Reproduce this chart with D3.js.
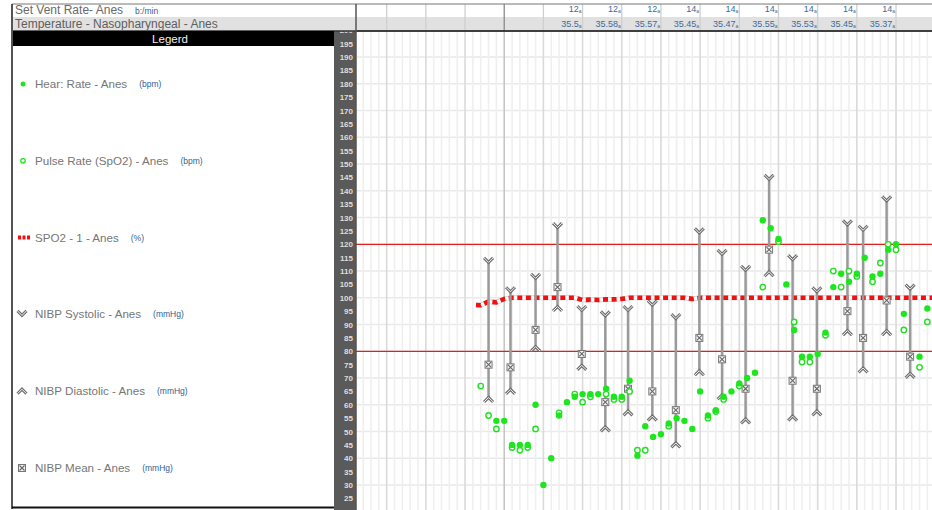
<!DOCTYPE html>
<html><head><meta charset="utf-8">
<script src="https://cdn.jsdelivr.net/npm/d3@7"></script>
<style>body{margin:0;background:#fff;} svg{display:block;font-family:"Liberation Sans",Arial,sans-serif;}</style>
</head><body>
<svg id="chart" width="932" height="510"></svg>
<script>
// ---------------- DATA ----------------
const hrTimes  = [19,20,21,22,23,24,25,26,27,28,29,30,31,32,33,34,35,36,37,38,39,40,41,42,43,44,45,46,47,48,49,50,51,52,53,54,55,56,57,58,59,60,61,62,63,64,65,66,67,68,69,70,71,73,74];
const hrValues = [54,54,45,45,45,60,30,40,56,61,63,64,64,64,66,63,63,69,41,52,48,49,53,55,54,51,65,56,58,63,65,68,70,72,129,126,122,105,88,78,78,79,87,104,109,106,109,115,108,109,118,120,94,78,96];

const prTimes  = [17,18,19,21,22,23,24,27,29,30,31,33,34,35,36,37,38,41,46,47,48,50,53,55,57,58,59,61,62,63,64,65,67,68,69,70,71,73,74];
const prValues = [67,56,51,44,43,44,51,57,64,61,63,64,62,62,65,43,43,52,55,57.5,62,67,104,121,91,76,76,86,110,104,110,108,106,113,120,118,88,74,91];

const spo2Times  = [16.4,17,18,19,20,21,22,23,24,25,26,27,28,29,30,31,32,33,34,35,36,37,38,39,40,41,42,43,44,45,46,47,48,49,50,51,52,53,54,55,56,57,58,59,60,61,62,63,64,65,66,67,68,69,70,71,72,73,74,75];
const spo2Values = [97.3,97.2,98.6,98.3,99.6,100,100,100,100,100,100,100,100,100,99.2,99.3,99.2,99.4,99.4,99.6,100,100,100,100,100,100,100,100,99.6,100,100,100,100,100,100,100,100,100,100,100,100,100,100,100,100,100,100,100,100,100,100,100,100,100,100,100,100,100,100,100];

const nibpTimes = [18,20.8,24,26.8,29.9,32.9,35.8,38.9,41.9,44.9,47.8,50.8,53.8,56.8,59.9,63.8,65.8,68.8,71.8];
const sysValues  = [114,103,108,127,96,94,96,98,93,125,117,111,145,115,103,128,126,137,104];
const meanValues = [75,74,88,104,79,61,66,65,58,85,77,66,118,69,66,95,85,99,78];
const diaValues  = [62,65,81,96,74,51,57,55,45,72,63,54,109,55,57,87,73,87,71];

const refLimits = [120, 80];

const headerTimes = [30,35,40,45,50,55,60,65,70];
const ventValues  = ["12","12","12","14","14","14","14","14","14"];
const tempValues  = ["35.5","35.58","35.57","35.45","35.47","35.55","35.53","35.45","35.37"];

const legendNames = ["Hear: Rate - Anes","Pulse Rate (SpO2) - Anes","SPO2 - 1 - Anes","NIBP Systolic - Anes","NIBP Diastolic - Anes","NIBP Mean - Anes"];
const legendUnits = ["(bpm)","(bpm)","(%)","(mmHg)","(mmHg)","(mmHg)"];
const legendKinds = ["hr","pr","spo2","sys","dia","mean"];

// ---------------- SCALES ----------------
const svg = d3.select("#chart");
const x = d3.scaleLinear().domain([0, 75]).range([347.5, 347.5 + 75 * 7.836]);
const y = d3.scaleLinear().domain([20, 200]).range([511.8, 30.3]);
const plotL = 356, plotR = 932, plotT = 31, plotB = 510;

svg.append("rect").attr("width", 932).attr("height", 510).attr("fill", "#fff");

const defs = svg.append("defs");
defs.append("clipPath").attr("id", "plotclip").append("rect")
  .attr("x", plotL).attr("y", plotT).attr("width", plotR - plotL).attr("height", plotB - plotT);

const plot = svg.append("g").attr("clip-path", "url(#plotclip)");

// grid
const minorT = d3.range(1, 76).filter(t => t % 5 !== 0);
const majorT = d3.range(0, 76, 5);
plot.selectAll(".hg").data(d3.range(30, 201, 10)).join("line")
  .attr("x1", plotL).attr("x2", plotR).attr("y1", d => y(d)).attr("y2", d => y(d))
  .attr("stroke", "#e9e9e9").attr("stroke-width", 1.5);
plot.selectAll(".vmin").data(minorT).join("line")
  .attr("x1", d => x(d)).attr("x2", d => x(d)).attr("y1", plotT).attr("y2", plotB)
  .attr("stroke", "#efefef").attr("stroke-width", 1.6);
plot.selectAll(".vmaj").data(majorT).join("line")
  .attr("x1", d => x(d)).attr("x2", d => x(d)).attr("y1", plotT).attr("y2", plotB)
  .attr("stroke", d => d === 20 ? "#c6c6c6" : "#dadada").attr("stroke-width", 1.6);

// reference limits
plot.selectAll(".ref").data(refLimits).join("line")
  .attr("x1", plotL).attr("x2", plotR).attr("y1", d => y(d)).attr("y2", d => y(d))
  .attr("stroke", "#e0201c").attr("stroke-width", 1.2);

// SpO2 line
const spo2 = spo2Times.map((t, i) => [t, spo2Values[i]]);
const line = d3.line().x(d => x(d[0])).y(d => y(d[1]));
plot.append("path").attr("d", line(spo2)).attr("fill", "none").attr("stroke", "#d4d4d4").attr("stroke-width", 5);
plot.append("path").attr("d", line(spo2)).attr("fill", "none").attr("stroke", "#ffffff").attr("stroke-width", 3.2);
plot.append("path").attr("d", line(spo2)).attr("fill", "none").attr("stroke", "#f01010").attr("stroke-width", 4.6).attr("stroke-dasharray", "5,3.6");

// markers
function sysMark(g, cx, cy) {
  const d = `M${cx-4.5},${cy-2.5} L${cx},${cy+2} L${cx+4.5},${cy-2.5}`;
  g.append("path").attr("d", d).attr("fill", "none").attr("stroke", "#707070").attr("stroke-width", 3);
  g.append("path").attr("d", d).attr("fill", "none").attr("stroke", "#f2f2f2").attr("stroke-width", 1);
}
function diaMark(g, cx, cy) {
  const d = `M${cx-4.5},${cy+2.5} L${cx},${cy-2} L${cx+4.5},${cy+2.5}`;
  g.append("path").attr("d", d).attr("fill", "none").attr("stroke", "#707070").attr("stroke-width", 3);
  g.append("path").attr("d", d).attr("fill", "none").attr("stroke", "#f2f2f2").attr("stroke-width", 1);
}
function meanMark(g, cx, cy) {
  g.append("rect").attr("x", cx-3.5).attr("y", cy-3.5).attr("width", 7).attr("height", 7)
    .attr("fill", "#f4f4f4").attr("stroke", "#777").attr("stroke-width", 1);
  g.append("path").attr("d", `M${cx-2.5},${cy-2.5} L${cx+2.5},${cy+2.5} M${cx+2.5},${cy-2.5} L${cx-2.5},${cy+2.5}`)
    .attr("stroke", "#666").attr("stroke-width", 1.1);
}

// NIBP bars
const nibp = plot.append("g");
nibpTimes.forEach((t, i) => {
  const cx = x(t);
  nibp.append("line").attr("x1", cx).attr("x2", cx).attr("y1", y(sysValues[i]) + 2).attr("y2", y(diaValues[i]) - 2)
    .attr("stroke", "#9a9a9a").attr("stroke-width", 2.5);
});
nibpTimes.forEach((t, i) => {
  const cx = x(t);
  sysMark(nibp, cx, y(sysValues[i]));
  diaMark(nibp, cx, y(diaValues[i]));
  meanMark(nibp, cx, y(meanValues[i]));
});

// pulse (hollow) and heart rate (filled)
plot.selectAll(".pr").data(prTimes.map((t, i) => [t, prValues[i]])).join("circle")
  .attr("cx", d => x(d[0])).attr("cy", d => y(d[1])).attr("r", 2.7)
  .attr("fill", "#fff").attr("stroke", "#22e022").attr("stroke-width", 1.4);
plot.selectAll(".hr").data(hrTimes.map((t, i) => [t, hrValues[i]])).join("circle")
  .attr("cx", d => x(d[0])).attr("cy", d => y(d[1])).attr("r", 3.2)
  .attr("fill", "#1ee61e");

// ---------------- HEADER ----------------
const hdr = svg.append("g");
hdr.append("rect").attr("x", 0).attr("y", 0).attr("width", 932).attr("height", 17).attr("fill", "#fff");
hdr.append("rect").attr("x", 12).attr("y", 17).attr("width", 920).attr("height", 14).attr("fill", "#e1e1e1");
hdr.selectAll(".hv").data(majorT.filter(t => x(t) > plotL)).join("line")
  .attr("x1", d => x(d)).attr("x2", d => x(d)).attr("y1", 4).attr("y2", 31)
  .attr("stroke", d => d === 20 ? "#8a8a8a" : "#cfcfcf").attr("stroke-width", 1.3);
hdr.append("line").attr("x1", 12).attr("x2", 932).attr("y1", 4).attr("y2", 4).attr("stroke", "#777").attr("stroke-width", 1);
hdr.append("line").attr("x1", 12).attr("x2", 932).attr("y1", 31).attr("y2", 31).attr("stroke", "#333").attr("stroke-width", 1.5);

hdr.append("text").attr("x", 15).attr("y", 14).attr("font-size", 12).attr("fill", "#6a6a6a").text("Set Vent Rate- Anes");
hdr.append("text").attr("x", 135).attr("y", 14).attr("font-size", 8.5).attr("fill", "#2f5f96").text("b:/min");
hdr.append("text").attr("x", 15).attr("y", 27.5).attr("font-size", 12).attr("fill", "#5e5e5e").text("Temperature - Nasopharyngeal - Anes");

function hdrText(vals, yy) {
  vals.forEach((v, i) => {
    const t = hdr.append("text").attr("x", x(headerTimes[i]) - 1).attr("y", yy)
      .attr("text-anchor", "end").attr("fill", "#3b6c9c").attr("font-size", 9);
    t.append("tspan").text(v);
    t.append("tspan").attr("font-size", 5).attr("dy", 1).text("a");
  });
}
hdrText(ventValues, 12);
hdrText(tempValues, 26.5);

// ---------------- LEGEND PANEL ----------------
const leg = svg.append("g");
leg.append("rect").attr("x", 12).attr("y", 31).attr("width", 322).attr("height", 15).attr("fill", "#000");
leg.append("text").attr("x", 170).attr("y", 42.5).attr("text-anchor", "middle").attr("font-size", 11.5)
  .attr("fill", "#f0f0f0").text("Legerd");
leg.append("line").attr("x1", 12).attr("x2", 12).attr("y1", 4).attr("y2", 509).attr("stroke", "#555").attr("stroke-width", 2);
leg.append("line").attr("x1", 12).attr("x2", 334).attr("y1", 507.5).attr("y2", 507.5).attr("stroke", "#111").attr("stroke-width", 2);

const legY = d3.scaleLinear().domain([0, 5]).range([84, 468]);
legendNames.forEach((name, i) => {
  const cy = legY(i);
  const g = leg.append("g");
  const k = legendKinds[i];
  if (k === "hr") g.append("circle").attr("cx", 23).attr("cy", cy).attr("r", 2.5).attr("fill", "#1ee61e");
  if (k === "pr") g.append("circle").attr("cx", 23).attr("cy", cy).attr("r", 2.2).attr("fill", "#fff").attr("stroke", "#22e022").attr("stroke-width", 1.3);
  if (k === "spo2") {
    g.append("line").attr("x1", 18).attr("x2", 31).attr("y1", cy).attr("y2", cy).attr("stroke", "#f01010").attr("stroke-width", 4).attr("stroke-dasharray", "3,1.5");
  }
  if (k === "sys") sysMark(g, 22, cy - 1);
  if (k === "dia") diaMark(g, 22, cy);
  if (k === "mean") meanMark(g, 22, cy);
  const tx = g.append("text").attr("x", 35).attr("y", cy + 4).attr("font-size", 11.6).attr("fill", "#767676").text(name);
  const w = tx.node().getComputedTextLength();
  g.append("text").attr("x", 35 + w + 12).attr("y", cy + 3).attr("font-size", 8.5).attr("fill", "#2f5f96").text(legendUnits[i]);
});

// ---------------- Y AXIS STRIP ----------------
svg.append("rect").attr("x", 334).attr("y", 31).attr("width", 22).attr("height", 479).attr("fill", "#5a5a5a");
const yAxis = d3.axisLeft(y).tickValues(d3.range(25, 201, 5)).tickSize(0).tickPadding(0);
const ya = svg.append("g").attr("transform", "translate(353,0)").call(yAxis);
ya.select(".domain").remove();
ya.selectAll("text").attr("font-size", 8).attr("font-weight", "bold").attr("fill", "#dedede")
  .attr("font-family", "'Liberation Sans',Arial,sans-serif");
svg.append("rect").attr("x", 334).attr("y", 17).attr("width", 22).attr("height", 14).attr("fill", "#e1e1e1");
svg.append("line").attr("x1", 334).attr("x2", 932).attr("y1", 31).attr("y2", 31).attr("stroke", "#333").attr("stroke-width", 1.5);
svg.append("line").attr("x1", 356).attr("x2", 356).attr("y1", 4).attr("y2", 510).attr("stroke", "#555").attr("stroke-width", 1.5);
</script>
</body></html>
